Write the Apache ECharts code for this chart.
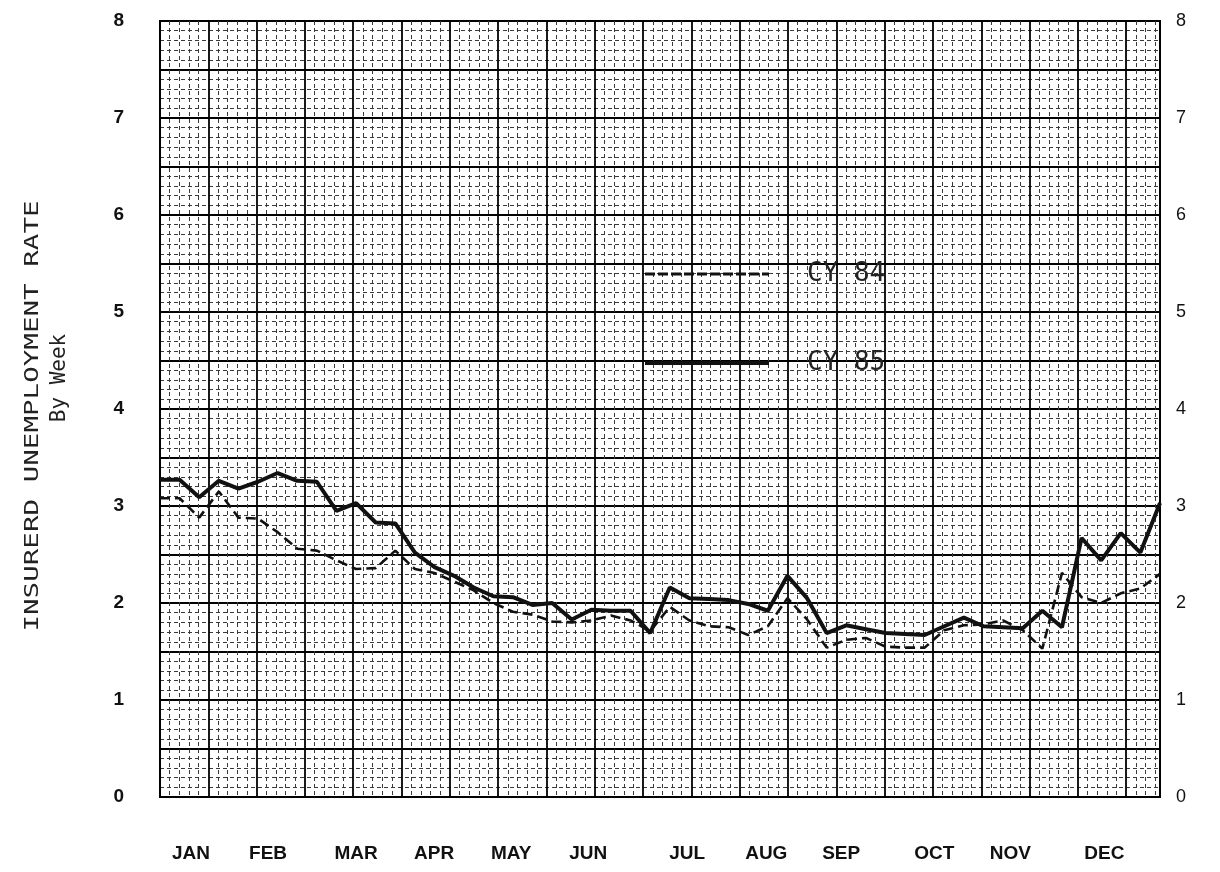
<!DOCTYPE html>
<html>
<head>
<meta charset="utf-8">
<script src="https://cdn.jsdelivr.net/npm/echarts@6/dist/echarts.min.js"></script>
<style>
  html, body { margin: 0; padding: 0; background: #ffffff; }
  #chart { width: 1220px; height: 872px; }
</style>
</head>
<body>
<div id="chart"></div>
<script>
// ---- data ----
const months = ['JAN', 'FEB', 'MAR', 'APR', 'MAY', 'JUN', 'JUL', 'AUG', 'SEP', 'OCT', 'NOV', 'DEC'];
// month label positions, in weeks (0 = first week)
const monthWeek = [1.58, 5.51, 10.0, 13.98, 17.91, 21.84, 26.89, 30.92, 34.74, 39.49, 43.37, 48.16];
const yTicks = [0, 1, 2, 3, 4, 5, 6, 7, 8];
const cy84 = [3.08, 3.08, 2.88, 3.15, 2.88, 2.87, 2.73, 2.56, 2.54, 2.44,
              2.35, 2.36, 2.54, 2.35, 2.31, 2.22, 2.13, 2.00, 1.91, 1.88,
              1.81, 1.80, 1.82, 1.87, 1.82, 1.71, 1.96, 1.82, 1.76, 1.75,
              1.67, 1.76, 2.05, 1.83, 1.54, 1.62, 1.64, 1.55, 1.54, 1.54,
              1.72, 1.77, 1.78, 1.82, 1.72, 1.53, 2.31, 2.06, 2.00, 2.10,
              2.15, 2.30];
const cy85 = [3.27, 3.27, 3.09, 3.26, 3.18, 3.25, 3.34, 3.26, 3.25, 2.95,
              3.03, 2.83, 2.82, 2.52, 2.37, 2.28, 2.16, 2.07, 2.06, 1.98,
              2.00, 1.83, 1.93, 1.92, 1.92, 1.69, 2.16, 2.05, 2.04, 2.03,
              1.99, 1.92, 2.28, 2.05, 1.69, 1.77, 1.73, 1.69, 1.68, 1.67,
              1.76, 1.85, 1.76, 1.75, 1.74, 1.92, 1.75, 2.67, 2.44, 2.72,
              2.52, 3.03];
const seriesNames = ['CY 84', 'CY 85'];
const yTitle = 'INSURERD UNEMPLOYMENT RATE';
const ySubTitle = 'By Week';

// ---- chart ----
const toPairs = arr => arr.map((v, i) => [i, v]);
const chart = echarts.init(document.getElementById('chart'), null, { renderer: 'canvas' });
const ink = '#111';
const labelFont = 'Liberation Sans';
const monoFont = 'DejaVu Sans Mono';

const option = {
  animation: false,
  backgroundColor: '#ffffff',
  grid: {
    left: 160, right: 60, top: 21, bottom: 75,
    show: true, borderColor: '#000', borderWidth: 2, backgroundColor: '#ffffff'
  },
  legend: {
    orient: 'vertical',
    left: 643, top: 261, padding: 0,
    itemWidth: 124, itemHeight: 20, itemGap: 63,
    data: [
      { name: seriesNames[0], lineStyle: { width: 3, type: [10, 3], color: '#111' } },
      { name: seriesNames[1], lineStyle: { width: 4, color: '#111' } }
    ],
    itemStyle: { opacity: 0 },
    textStyle: { fontFamily: monoFont, fontSize: 26, color: '#222', padding: [0, 0, 0, 33] }
  },
  xAxis: [
    {
      // data axis (weeks) with month labels
      type: 'value', min: 0, max: cy85.length - 1,
      axisLine: { show: false }, axisTick: { show: false }, splitLine: { show: false },
      axisLabel: {
        customValues: monthWeek,
        margin: 47,
        fontFamily: labelFont, fontSize: 19, fontWeight: 'bold', color: ink,
        formatter: function (v) {
          let best = 0, bd = Infinity;
          monthWeek.forEach((m, i) => { const d = Math.abs(m - v); if (d < bd) { bd = d; best = i; } });
          return months[best];
        }
      }
    },
    {
      // graph-paper vertical rulings
      type: 'value', min: 0, max: 20.7, interval: 1,
      axisLine: { show: false }, axisTick: { show: false }, axisLabel: { show: false },
      splitLine: { show: true, lineStyle: { color: '#000', width: 1.8 } },
      minorTick: { show: false, splitNumber: 5 },
      minorSplitLine: { show: true, lineStyle: { color: '#3a3a3a', width: 1, type: [4, 3] } }
    }
  ],
  yAxis: [
    {
      type: 'value', min: 0, max: 8, interval: 0.5, position: 'left',
      axisLine: { show: false }, axisTick: { show: false },
      axisLabel: {
        margin: 36, fontFamily: labelFont, fontSize: 19, fontWeight: 'bold', color: ink,
        formatter: v => (yTicks.indexOf(v) >= 0 ? String(v) : '')
      },
      splitLine: { show: true, lineStyle: { color: '#000', width: 1.8 } },
      minorTick: { show: false, splitNumber: 5 },
      minorSplitLine: { show: true, lineStyle: { color: '#3a3a3a', width: 1, type: [4, 3] } }
    },
    {
      type: 'value', min: 0, max: 8, interval: 0.5, position: 'right',
      axisLine: { show: false }, axisTick: { show: false }, splitLine: { show: false },
      axisLabel: {
        margin: 16, fontFamily: labelFont, fontSize: 18, color: ink,
        formatter: v => (yTicks.indexOf(v) >= 0 ? String(v) : '')
      }
    }
  ],
  series: [
    {
      name: seriesNames[0], type: 'line', xAxisIndex: 0, yAxisIndex: 0,
      data: toPairs(cy84), symbol: 'none', z: 5,
      lineStyle: { color: '#111', width: 2.6, type: [10, 5] },
      itemStyle: { color: '#111' }
    },
    {
      name: seriesNames[1], type: 'line', xAxisIndex: 0, yAxisIndex: 0,
      data: toPairs(cy85), symbol: 'none', z: 6,
      lineStyle: { color: '#111', width: 4 },
      itemStyle: { color: '#111' }
    }
  ],
  graphic: [
    {
      type: 'text', x: 33, y: 416, rotation: Math.PI / 2, scaleX: 1.45,
      style: { text: yTitle, fontFamily: monoFont, fontSize: 19, fill: '#222', align: 'center', verticalAlign: 'middle' }
    },
    {
      type: 'text', x: 60, y: 378, rotation: Math.PI / 2,
      style: { text: ySubTitle, fontFamily: monoFont, fontSize: 21, fill: '#222', align: 'center', verticalAlign: 'middle' }
    }
  ]
};
chart.setOption(option);
</script>
</body>
</html>
